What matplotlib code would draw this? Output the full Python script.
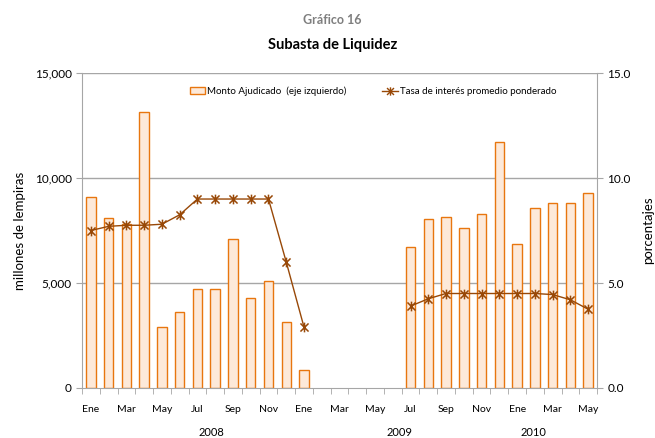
import numpy as np
import matplotlib
matplotlib.use("Agg")
import matplotlib.pyplot as plt
from matplotlib.lines import Line2D
from matplotlib.patches import Patch
from matplotlib.path import Path

plt.rcParams['font.family'] = ['Lato', 'DejaVu Sans']

# monthly data, Ene 2008 .. May 2010 (29 months); NaN = no auction
meses = ['Ene', 'Feb', 'Mar', 'Abr', 'May', 'Jun', 'Jul', 'Ago', 'Sep', 'Oct', 'Nov', 'Dic'] * 2 + \
        ['Ene', 'Feb', 'Mar', 'Abr', 'May']
monto = [9100, 8080, 7810, 13160, 2920, 3600, 4700, 4730, 7100, 4290, 5110, 3140,
         870, np.nan, np.nan, np.nan, np.nan, np.nan,
         6710, 8030, 8130, 7630, 8300, 11700,
         6840, 8590, 8790, 8790, 9300]
tasa = [7.5, 7.7, 7.75, 7.75, 7.8, 8.25, 9.0, 9.0, 9.0, 9.0, 9.0, 6.0,
        2.9, np.nan, np.nan, np.nan, np.nan, np.nan,
        3.9, 4.25, 4.5, 4.5, 4.5, 4.5,
        4.5, 4.5, 4.45, 4.2, 3.75]
years = ['2008', '2009', '2010']
year_pos = [6.8, 17.4, 24.9]

x = np.arange(len(meses))

# excel-style star marker: an x with a vertical bar
star = Path([(-1, -1), (1, 1), (-1, 1), (1, -1), (0, -1.2), (0, 1.2)],
            [Path.MOVETO, Path.LINETO, Path.MOVETO, Path.LINETO, Path.MOVETO, Path.LINETO])

fig = plt.figure(figsize=(6.55, 4.38), dpi=100)
ax = fig.add_axes([0.1252, 0.1142, 0.9115 - 0.1252, 0.719])
ax2 = ax.twinx()

grid_col = '#a6a6a6'
ax.set_ylim(0, 15000)
ax.set_yticks([0, 5000, 10000, 15000])
ax.set_yticklabels(['0', '5,000', '10,000', '15,000'], fontsize=8.5)
for v in [5000, 10000, 15000]:
    ax.axhline(v, color=grid_col, lw=1, zorder=0)

ax.bar(x, monto, width=0.53, color='#fde9d9', edgecolor='#e8760f', linewidth=1, zorder=2)

ax.set_xlim(-0.5, len(meses) - 0.5)
ax.set_xticks(x[::2])
ax.set_xticklabels(meses[::2], fontsize=7.5)
ax.set_xticks(np.arange(-0.5, len(meses)), minor=True)
ax.tick_params(axis='x', which='major', length=0, pad=12)
ax.tick_params(axis='x', which='minor', length=4, color=grid_col)
ax.tick_params(axis='y', length=4, color=grid_col)

for s in ['top', 'right']:
    ax.spines[s].set_visible(False)
ax.spines['left'].set_color(grid_col)
ax.spines['bottom'].set_color(grid_col)

ax2.plot(x, tasa, color='#984807', lw=1, marker=star, markersize=7,
         markeredgewidth=1.1, zorder=3)
ax2.set_ylim(0, 15)
ax2.set_yticks([0, 5, 10, 15])
ax2.set_yticklabels(['0.0', '5.0', '10.0', '15.0'], fontsize=8.5)
ax2.tick_params(axis='y', length=4, color=grid_col)
for s in ['top', 'left', 'bottom']:
    ax2.spines[s].set_visible(False)
ax2.spines['right'].set_color(grid_col)
ax.set_zorder(ax2.get_zorder() - 1)
ax.patch.set_visible(False)

ax.set_ylabel('millones de lempiras', fontsize=9.5, labelpad=6)
ax2.set_ylabel('porcentajes', fontsize=9.5, labelpad=8)

for yr, p in zip(years, year_pos):
    ax.text(p, -0.14, yr, transform=ax.get_xaxis_transform(), ha='center', va='center', fontsize=8)

handles = [Patch(facecolor='#fde9d9', edgecolor='#e8760f'),
           Line2D([], [], color='#984807', lw=1, marker=star, markersize=6)]
ax2.legend(handles, ['Monto Ajudicado  (eje izquierdo)', 'Tasa de interés promedio ponderado'],
           loc='upper center', bbox_to_anchor=(0.565, 0.985), ncol=2, frameon=False,
           fontsize=7, handlelength=1.6, handletextpad=0.2, columnspacing=3.7)

fig.text(0.508, 0.955, 'Gráfico 16', ha='center', va='center', fontsize=9, fontweight='bold', color='#7f7f7f')
fig.text(0.508, 0.898, 'Subasta de Liquidez', ha='center', va='center', fontsize=10.5, fontweight='bold')

fig.savefig('out.png', dpi=100)
